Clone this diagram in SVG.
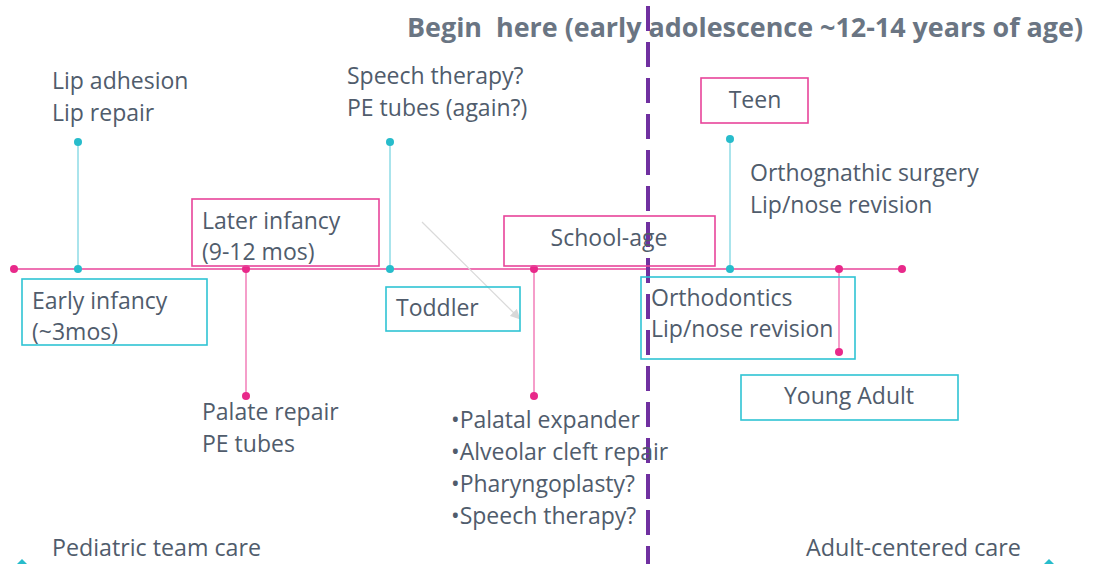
<svg xmlns="http://www.w3.org/2000/svg" width="1095" height="564" viewBox="0 0 1095 564">
<style>
  .t { font-family: "Open Sans", "Noto Sans", sans-serif; font-size: 23px; fill: #505C6C; }
  .title { font-family: "Open Sans", "Noto Sans", sans-serif; font-size: 27px; font-weight: bold; fill: #6A7583; white-space: pre; }
  .pbox { fill: none; stroke: #E8449A; stroke-width: 1.6; }
  .tbox { fill: none; stroke: #2FC4D4; stroke-width: 1.6; }
  .pline { stroke: #E8449A; stroke-width: 1.5; fill: none; }
  .pstem { stroke: #F06AAE; stroke-width: 1.3; }
  .tstem { stroke: #8EDBE6; stroke-width: 1.5; }
  .pdot { fill: #E8298A; }
  .tdot { fill: #27BCCB; }
</style>
<defs>
  <marker id="ga" markerWidth="10" markerHeight="10" refX="8" refY="5" orient="auto" markerUnits="userSpaceOnUse">
    <path d="M0,0 L10,5 L0,10 z" fill="#D8D8D8"/>
  </marker>
</defs>
<rect width="1095" height="564" fill="#FFFFFF"/>

<text class="title" x="407" y="37" textLength="676" lengthAdjust="spacingAndGlyphs" xml:space="preserve">Begin  here (early adolescence ~12-14 years of age)</text>

<g id="connectors">
  <line class="pline" x1="14" y1="269" x2="902" y2="269"/>
  <line class="tstem" x1="78" y1="142" x2="78" y2="269"/>
  <line class="tstem" x1="390" y1="142" x2="390" y2="269"/>
  <line class="tstem" x1="730" y1="139" x2="730" y2="269"/>
  <line class="pstem" x1="246" y1="269" x2="246" y2="396"/>
  <line class="pstem" x1="534" y1="269" x2="534" y2="396"/>
  <line class="pstem" x1="839" y1="269" x2="839" y2="352"/>
  <line x1="422" y1="222" x2="519" y2="318" stroke="#DADADA" stroke-width="1.2" marker-end="url(#ga)"/>
  <line x1="648" y1="6" x2="648" y2="564" stroke="#7030A0" stroke-width="4" stroke-dasharray="25,11"/>
  <circle class="pdot" cx="14" cy="269" r="4"/>
  <circle class="tdot" cx="78" cy="269" r="4"/>
  <circle class="tdot" cx="78" cy="142" r="4"/>
  <circle class="pdot" cx="246" cy="269" r="4"/>
  <circle class="pdot" cx="246" cy="396" r="4"/>
  <circle class="tdot" cx="390" cy="269" r="4"/>
  <circle class="tdot" cx="390" cy="142" r="4"/>
  <circle class="pdot" cx="534" cy="269" r="4"/>
  <circle class="pdot" cx="534" cy="396" r="4"/>
  <circle class="tdot" cx="730" cy="269" r="4"/>
  <circle class="tdot" cx="730" cy="139" r="4"/>
  <circle class="pdot" cx="839" cy="269" r="4"/>
  <circle class="pdot" cx="839" cy="352" r="4"/>
  <circle class="pdot" cx="902" cy="269" r="4"/>
  <path d="M17,564 L22,559 L27,564 z" fill="#27BCCB"/>
  <path d="M1044,564 L1049,559 L1054,564 z" fill="#27BCCB"/>
</g>

<g id="lip">
  <text class="t" x="52" y="89">Lip adhesion</text>
  <text class="t" x="52" y="121">Lip repair</text>
</g>
<g id="speech">
  <text class="t" x="347" y="84">Speech therapy?</text>
  <text class="t" x="347" y="116">PE tubes (again?)</text>
</g>
<g id="teen">
  <rect class="pbox" x="701" y="78" width="107" height="45"/>
  <text class="t" x="755" y="108" text-anchor="middle">Teen</text>
</g>
<g id="orthognathic">
  <text class="t" x="750" y="181">Orthognathic surgery</text>
  <text class="t" x="750" y="213">Lip/nose revision</text>
</g>
<g id="later-infancy">
  <rect class="pbox" x="192" y="199" width="187" height="67"/>
  <text class="t" x="202" y="229">Later infancy</text>
  <text class="t" x="202" y="260">(9-12 mos)</text>
</g>
<g id="school-age">
  <rect class="pbox" x="504" y="216" width="211" height="50"/>
  <text class="t" x="609" y="246" text-anchor="middle">School-age</text>
</g>
<g id="early-infancy">
  <rect class="tbox" x="22" y="279" width="185" height="66"/>
  <text class="t" x="32" y="309">Early infancy</text>
  <text class="t" x="32" y="340">(~3mos)</text>
</g>
<g id="toddler">
  <rect class="tbox" x="386" y="287" width="134" height="44"/>
  <text class="t" x="396" y="316">Toddler</text>
</g>
<g id="orthodontics">
  <rect class="tbox" x="641" y="277" width="214" height="82"/>
  <text class="t" x="651" y="306">Orthodontics</text>
  <text class="t" x="651" y="337">Lip/nose revision</text>
</g>
<g id="young-adult">
  <rect class="tbox" x="741" y="375" width="217" height="45"/>
  <text class="t" x="849" y="404" text-anchor="middle">Young Adult</text>
</g>
<g id="palate">
  <text class="t" x="202" y="420">Palate repair</text>
  <text class="t" x="202" y="452">PE tubes</text>
</g>
<g id="school-procedures">
  <text class="t" x="451" y="428">•Palatal expander</text>
  <text class="t" x="451" y="460">•Alveolar cleft repair</text>
  <text class="t" x="451" y="492">•Pharyngoplasty?</text>
  <text class="t" x="451" y="524">•Speech therapy?</text>
</g>
<g id="care-labels">
  <text class="t" x="52" y="556" textLength="209" lengthAdjust="spacingAndGlyphs">Pediatric team care</text>
  <text class="t" x="806" y="556" textLength="215" lengthAdjust="spacingAndGlyphs">Adult-centered care</text>
</g>
</svg>
